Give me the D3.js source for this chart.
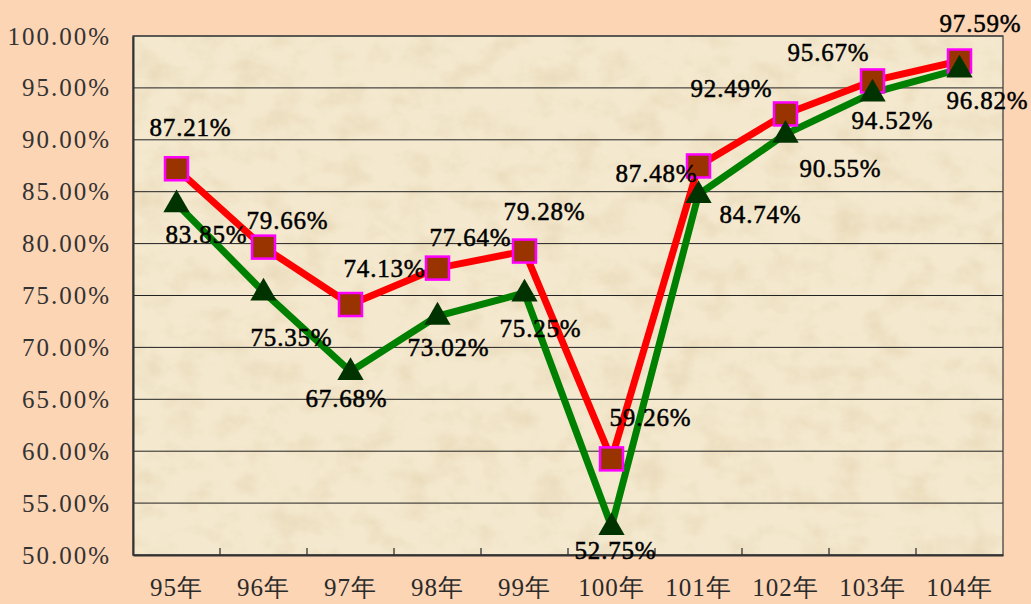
<!DOCTYPE html>
<html>
<head>
<meta charset="utf-8">
<script src="https://cdn.jsdelivr.net/npm/d3@7"></script>
<style>
  html, body { margin: 0; padding: 0; background: #fcd5b5; }
  svg { display: block; }
</style>
</head>
<body>
<svg width="1031" height="604"></svg>
<script>
// data
var years = ["95年", "96年", "97年", "98年", "99年", "100年", "101年", "102年", "103年", "104年"];
var redValues = [87.21, 79.66, 74.13, 77.64, 79.28, 59.26, 87.48, 92.49, 95.67, 97.59];
var greenValues = [83.85, 75.35, 67.68, 73.02, 75.25, 52.75, 84.74, 90.55, 94.52, 96.82];
var yTicks = [50, 55, 60, 65, 70, 75, 80, 85, 90, 95, 100];

// label offsets from the marker (layout only)
var redOffsets = [[14,-42],[24,-27],[34,-36],[33,-31],[20,-40],[39,-42],[-42,7],[-54,-26],[-44,-29],[21,-38]];
var greenOffsets = [[30,31],[28,45],[-4,27],[11,31],[16,35],[4,24],[62,20],[55,34],[20,27],[28,31]];

var svg = d3.select("svg");
var margin = {top: 36, right: 28, bottom: 49, left: 133};
var width = 1031 - margin.left - margin.right;
var height = 604 - margin.top - margin.bottom;

var defs = svg.append("defs");
var filt = defs.append("filter").attr("id", "parch")
  .attr("x", 0).attr("y", 0).attr("width", "100%").attr("height", "100%");
filt.append("feTurbulence").attr("type", "fractalNoise")
  .attr("baseFrequency", "0.03 0.04").attr("numOctaves", 5).attr("seed", 3).attr("result", "noise");
filt.append("feColorMatrix").attr("in", "noise").attr("type", "matrix")
  .attr("values", "0 0 0 0 0.76  0 0 0 0 0.62  0 0 0 0 0.40  1.1 0 0 0 -0.47");

var g = svg.append("g").attr("transform", "translate(" + margin.left + "," + margin.top + ")");

g.append("rect").attr("width", width).attr("height", height).attr("fill", "#f4e9cf");
g.append("rect").attr("width", width).attr("height", height).attr("fill", "#fff").attr("filter", "url(#parch)");

var xScale = d3.scaleBand().domain(years).range([0, width]).padding(0);
var yScale = d3.scaleLinear().domain([50, 100]).range([height, 0]);

var fontFamily = "Liberation Serif";

// gridlines
g.append("g")
  .selectAll("line")
  .data(yTicks)
  .enter()
  .append("line")
  .attr("x1", 0).attr("x2", width)
  .attr("y1", function(d) { return yScale(d); })
  .attr("y2", function(d) { return yScale(d); })
  .attr("stroke", "#222").attr("stroke-width", 1);

// frame
g.append("rect").attr("width", width).attr("height", height)
  .attr("fill", "none").attr("stroke", "#444").attr("stroke-width", 1.3);

// x axis with inner ticks at category boundaries
var xAxis = d3.axisBottom(xScale).tickSize(0).tickFormat("");
g.append("g").attr("transform", "translate(0," + height + ")").call(xAxis)
  .select(".domain").attr("stroke", "#333").attr("stroke-width", 2);
g.append("g")
  .selectAll("line")
  .data(years.slice(1))
  .enter()
  .append("line")
  .attr("x1", function(d) { return xScale(d); })
  .attr("x2", function(d) { return xScale(d); })
  .attr("y1", height).attr("y2", height - 7)
  .attr("stroke", "#333").attr("stroke-width", 1.3);

g.append("g")
  .selectAll("text")
  .data(years)
  .enter()
  .append("text")
  .attr("x", function(d) { return xScale(d) + xScale.bandwidth() / 2; })
  .attr("y", height + 41)
  .attr("text-anchor", "middle")
  .attr("font-family", fontFamily)
  .attr("font-size", 25)
  .style("letter-spacing", "1px")
  .attr("fill", "#2a2a2a")
  .text(function(d) { return d; });

// y axis labels
var yAxis = d3.axisLeft(yScale).tickValues(yTicks).tickSize(0).tickPadding(22)
  .tickFormat(function(d) { return d3.format(".2f")(d) + "%"; });
var yg = g.append("g").call(yAxis);
yg.attr("font-family", fontFamily).attr("font-size", 25);
yg.select(".domain").attr("stroke", "#333").attr("stroke-width", 2);
yg.selectAll("text")
  .style("letter-spacing", "2px")
  .attr("fill", "#333");

var line = d3.line()
  .x(function(d, i) { return xScale(years[i]) + xScale.bandwidth() / 2; })
  .y(function(d) { return yScale(d); });

g.append("path").datum(greenValues).attr("d", line)
  .attr("fill", "none").attr("stroke", "#008000").attr("stroke-width", 7).attr("stroke-linejoin", "round");
g.append("path").datum(redValues).attr("d", line)
  .attr("fill", "none").attr("stroke", "#ff0000").attr("stroke-width", 7).attr("stroke-linejoin", "round");

// square markers
g.append("g")
  .selectAll("rect")
  .data(redValues)
  .enter()
  .append("rect")
  .attr("x", function(d, i) { return xScale(years[i]) + xScale.bandwidth() / 2 - 11.5; })
  .attr("y", function(d) { return yScale(d) - 11.5; })
  .attr("width", 23).attr("height", 23)
  .attr("fill", "#993300").attr("stroke", "#ff00ff").attr("stroke-width", 2.5);

// triangle markers
var tri = d3.symbol().type(d3.symbolTriangle).size(300);
g.append("g")
  .selectAll("path")
  .data(greenValues)
  .enter()
  .append("path")
  .attr("d", tri)
  .attr("transform", function(d, i) {
    return "translate(" + (xScale(years[i]) + xScale.bandwidth() / 2) + "," + (yScale(d) + 1) + ")";
  })
  .attr("fill", "#003300");

function addLabels(values, offsets) {
  g.append("g")
    .selectAll("text")
    .data(values)
    .enter()
    .append("text")
    .attr("x", function(d, i) { return xScale(years[i]) + xScale.bandwidth() / 2 + offsets[i][0]; })
    .attr("y", function(d, i) { return yScale(d) + offsets[i][1]; })
    .attr("dy", "0.35em")
    .attr("text-anchor", "middle")
    .attr("font-family", fontFamily)
    .attr("font-size", 25)
    .style("letter-spacing", "0.8px")
    .attr("fill", "#000")
    .attr("stroke", "#000").attr("stroke-width", 0.5)
    .text(function(d) { return d3.format(".2f")(d) + "%"; });
}
addLabels(redValues, redOffsets);
addLabels(greenValues, greenOffsets);
</script>
</body>
</html>
